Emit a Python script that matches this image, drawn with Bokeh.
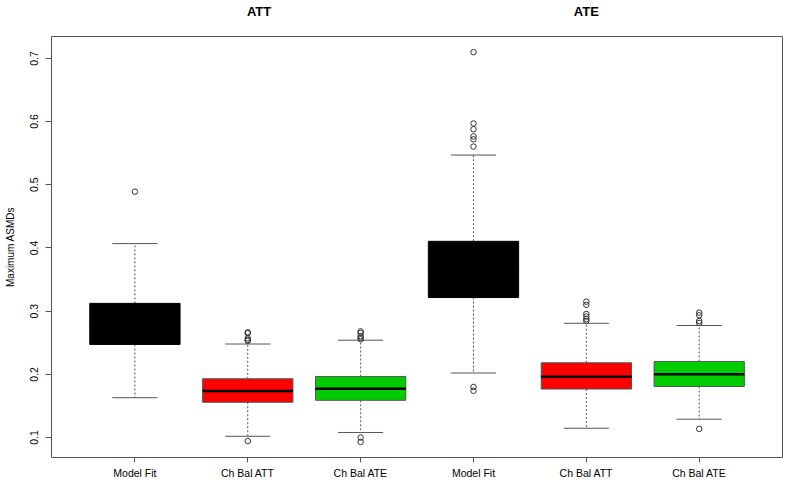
from bokeh.plotting import figure
from bokeh.models import Range1d, FixedTicker, LinearAxis, ColumnDataSource
from bokeh.embed import file_html
from bokeh.resources import INLINE

# ---- data ----
positions = [1, 2, 3, 4, 5, 6]
group_labels = ["Model Fit", "Ch Bal ATT", "Ch Bal ATE", "Model Fit", "Ch Bal ATT", "Ch Bal ATE"]
box_colors = ["#000000", "#FF0000", "#00CC00", "#000000", "#FF0000", "#00CC00"]
box_lines = ["#000000", "#555555", "#555555", "#000000", "#555555", "#555555"]
q1 = [0.2473, 0.1558, 0.1589, 0.3215, 0.1767, 0.1808]
median = [0.280, 0.1736, 0.1770, 0.365, 0.1960, 0.2000]
q3 = [0.3123, 0.1930, 0.1965, 0.4105, 0.2183, 0.2204]
whisker_low = [0.1630, 0.1020, 0.1080, 0.2021, 0.1147, 0.1290]
whisker_high = [0.4069, 0.2480, 0.2540, 0.5470, 0.2808, 0.2773]
outliers = [
    [0.489],
    [0.2666, 0.2650, 0.2570, 0.2544, 0.2530, 0.0944],
    [0.2680, 0.2655, 0.2605, 0.2580, 0.2555, 0.1000, 0.0930],
    [0.7098, 0.5970, 0.5878, 0.5765, 0.5720, 0.5604, 0.1800, 0.1740],
    [0.3150, 0.3100, 0.2956, 0.2915, 0.2875, 0.2845],
    [0.2976, 0.2935, 0.2845, 0.2814, 0.1137],
]
y_ticks = [0.1, 0.2, 0.3, 0.4, 0.5, 0.6, 0.7]
panel_titles = ["ATT", "ATE"]
panel_title_x = [2.1, 5.0]

X_LO, X_HI = 0.261, 6.738
Y_LO, Y_HI = 0.0684, 0.7346
FONT = "Liberation Sans"

p = figure(width=784, height=481, output_backend="svg", toolbar_location=None,
           x_range=Range1d(X_LO, X_HI), y_range=Range1d(Y_LO, Y_HI),
           min_border_left=51, min_border_right=2, min_border_top=34,
           min_border_bottom=21)
p.xgrid.visible = False
p.ygrid.visible = False
p.outline_line_color = "#555555"
p.outline_line_width = 1
p.outline_line_alpha = 1.0
p.background_fill_color = "white"
p.border_fill_color = "white"

src = ColumnDataSource(dict(x=positions, q1=q1, q3=q3, med=median,
                            lo=whisker_low, hi=whisker_high,
                            left=[x - 0.4 for x in positions],
                            right=[x + 0.4 for x in positions],
                            cl=[x - 0.2 for x in positions],
                            cr=[x + 0.2 for x in positions],
                            fill=box_colors, line=box_lines))
# whiskers
p.segment(x0="x", y0="q3", x1="x", y1="hi", source=src, line_color="#555555",
          line_dash="2 2", line_width=1)
p.segment(x0="x", y0="q1", x1="x", y1="lo", source=src, line_color="#555555",
          line_dash="2 2", line_width=1)
p.segment(x0="cl", y0="hi", x1="cr", y1="hi", source=src, line_color="#555555", line_width=1)
p.segment(x0="cl", y0="lo", x1="cr", y1="lo", source=src, line_color="#555555", line_width=1)
# boxes
p.quad(left="left", right="right", bottom="q1", top="q3", source=src,
       fill_color="fill", line_color="line", line_width=1)
# medians
p.segment(x0="left", y0="med", x1="right", y1="med", source=src,
          line_color="black", line_width=2.5)
# outliers
ox, oy = [], []
for pos, vals in zip(positions, outliers):
    for v in vals:
        ox.append(pos)
        oy.append(v)
p.scatter(ox, oy, marker="circle", size=5.5, fill_color=None, line_color="#333333",
          line_width=1)

# axes
for ax in (p.xaxis[0], p.yaxis[0]):
    ax.axis_line_color = None
    ax.major_tick_line_color = "#555555"
    ax.major_tick_in = 0
    ax.minor_tick_line_color = None
    ax.major_label_text_font = FONT
    ax.major_label_text_font_size = "10.5px"
    ax.major_label_text_color = "black"

p.xaxis.ticker = FixedTicker(ticks=positions)
p.xaxis.major_label_overrides = {pos: lab for pos, lab in zip(positions, group_labels)}
p.xaxis.major_tick_out = 5
p.xaxis.major_label_standoff = 4

p.yaxis.ticker = FixedTicker(ticks=y_ticks)
p.yaxis.major_tick_out = 6
p.yaxis.major_label_orientation = "vertical"
p.yaxis.major_label_standoff = 7
p.yaxis.axis_label = "Maximum ASMDs"
p.yaxis.axis_label_text_font = FONT
p.yaxis.axis_label_text_font_size = "10px"
p.yaxis.axis_label_text_font_style = "normal"
p.yaxis.axis_label_text_color = "black"
p.yaxis.axis_label_standoff = 12

# panel titles ("ATT", "ATE") as an unlined axis above the frame
top_axis = LinearAxis(ticker=FixedTicker(ticks=panel_title_x),
                      major_label_overrides={tx: tt for tx, tt in zip(panel_title_x, panel_titles)})
top_axis.axis_line_color = None
top_axis.major_tick_line_color = None
top_axis.minor_tick_line_color = None
top_axis.major_tick_out = 0
top_axis.major_tick_in = 0
top_axis.major_label_standoff = 18
top_axis.major_label_text_font = FONT
top_axis.major_label_text_font_size = "13px"
top_axis.major_label_text_font_style = "bold"
top_axis.major_label_text_color = "black"
p.add_layout(top_axis, "above")

open("out.html", "w").write(file_html(p, INLINE))
